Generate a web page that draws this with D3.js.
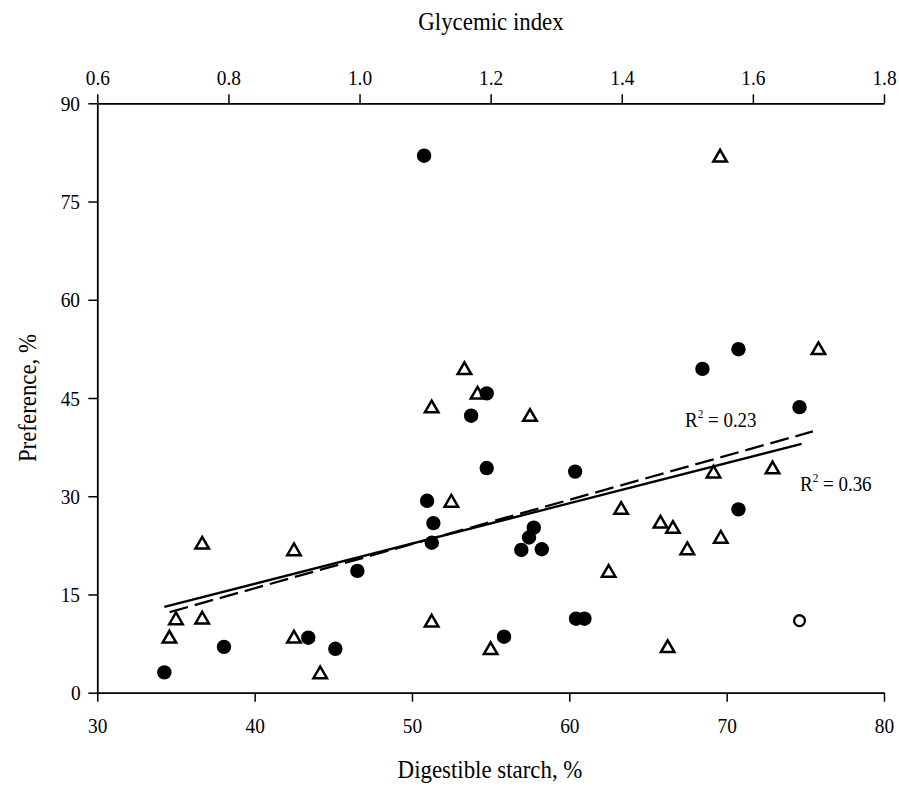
<!DOCTYPE html>
<html>
<head>
<meta charset="utf-8">
<script src="https://cdn.jsdelivr.net/npm/d3@7"></script>
<style>
  html, body { margin: 0; padding: 0; background: #fff; }
  svg { display: block; }
  text { font-family: "Liberation Serif", "Times New Roman", serif; fill: #000; }
  .cond { transform-box: fill-box; transform-origin: center; transform: scaleX(0.88); }
</style>
</head>
<body>
<svg id="chart" width="899" height="792"></svg>
<script>
// ---- Data ----
// Filled circles: digestible starch (%) vs preference (%)
const starchX = [50.77, 70.75, 68.46, 54.75, 53.76, 54.75, 60.37, 50.96, 51.36, 51.26, 57.74, 57.44, 56.95, 58.25, 60.43, 60.96, 55.85, 46.53, 43.41, 38.05, 45.13, 34.26, 74.63, 70.75];
const starchY = [82.0, 52.45, 49.44, 45.7, 42.3, 34.3, 33.76, 29.3, 25.9, 22.9, 25.2, 23.7, 21.8, 21.9, 11.3, 11.3, 8.55, 18.6, 8.4, 7.0, 6.7, 3.1, 43.6, 28.0];
// Open circle (outlier)
const outlierX = [74.63];
const outlierY = [11.0];
// Open triangles: glycemic index vs preference (%)
const giX = [1.550, 1.700, 1.160, 1.180, 1.110, 1.260, 1.140, 1.399, 1.459, 1.478, 1.380, 1.110, 1.200, 1.470, 0.760, 0.900, 0.720, 0.760, 0.710, 0.900, 0.940, 1.540, 1.630, 1.551, 1.500];
const giY = [82.0, 52.6, 49.55, 45.8, 43.7, 42.4, 29.3, 28.2, 26.1, 25.3, 18.6, 11.0, 6.8, 7.1, 22.9, 21.9, 11.36, 11.46, 8.55, 8.55, 3.1, 33.76, 34.4, 23.8, 22.05];
// Regression line endpoints (in digestible starch / preference units)
const solidLine = [[34.26, 13.1], [74.76, 38.0]];
const dashedLine = [[34.6, 12.3], [75.48, 39.9]];
// Ticks
const xTicks = [30, 40, 50, 60, 70, 80];
const xTopTicks = [0.6, 0.8, 1.0, 1.2, 1.4, 1.6, 1.8];
const yTicks = [0, 15, 30, 45, 60, 75, 90];
const r2Labels = [{t: "0.23", x: 67.36, y: 40.5}, {t: "0.36", x: 74.67, y: 30.8}];

// ---- Layout ----
const svg = d3.select("#chart");
const mLeft = 97.3, mRight = 884, mTop = 103.3, mBottom = 692.7;

const x = d3.scaleLinear().domain([30, 80]).range([mLeft, mRight]);
const xTop = d3.scaleLinear().domain([0.6, 1.8]).range([mLeft, mRight]);
const y = d3.scaleLinear().domain([0, 90]).range([mBottom, mTop]);

function styleAxis(g) {
  g.selectAll(".domain").attr("stroke", "#000").attr("stroke-width", 1.8);
  g.selectAll(".tick line").attr("stroke", "#000").attr("stroke-width", 1.5);
  g.selectAll(".tick text").attr("class", "cond")
    .style("font-family", '"Liberation Serif", "Times New Roman", serif').style("font-size", "22px").attr("fill", "#000");
}

svg.append("g").attr("transform", `translate(0,${mBottom})`)
  .call(d3.axisBottom(x).tickValues(xTicks).tickFormat(d3.format("d")).tickSize(9).tickPadding(16).tickSizeOuter(0))
  .call(styleAxis);

svg.append("g").attr("transform", `translate(0,${mTop})`)
  .call(d3.axisTop(xTop).tickValues(xTopTicks).tickFormat(d3.format(".1f")).tickSize(9).tickPadding(9).tickSizeOuter(0))
  .call(styleAxis);

svg.append("g").attr("transform", `translate(${mLeft},0)`)
  .call(d3.axisLeft(y).tickValues(yTicks).tickFormat(d3.format("d")).tickSize(9).tickPadding(7).tickSizeOuter(0))
  .call(styleAxis);

// Axis titles
svg.append("text").attr("class", "cond").attr("x", 491).attr("y", 30).attr("text-anchor", "middle").style("font-size", "26px").text("Glycemic index");
svg.append("text").attr("class", "cond").attr("x", 490).attr("y", 778).attr("text-anchor", "middle").style("font-size", "26px").text("Digestible starch, %");
svg.append("text").attr("transform", `translate(36,${(mTop + mBottom) / 2}) rotate(-90) scale(0.88,1)`).attr("text-anchor", "middle").style("font-size", "26px").text("Preference, %");

// Regression lines
const line = d3.line().x(d => x(d[0])).y(d => y(d[1]));
svg.append("path").datum(solidLine).attr("d", line).attr("fill", "none").attr("stroke", "#000").attr("stroke-width", 2.3);
svg.append("path").datum(dashedLine).attr("d", line).attr("fill", "none").attr("stroke", "#000").attr("stroke-width", 2.3).attr("stroke-dasharray", "19,7");

// Triangles
const s = 13.5, h = s * Math.sqrt(3) / 2;
function tri(cx, cy) {
  return `M${cx},${cy - h / 2}L${cx + s / 2},${cy + h / 2}L${cx - s / 2},${cy + h / 2}Z`;
}
svg.append("g").selectAll("path").data(d3.range(giX.length)).join("path")
  .attr("d", i => tri(xTop(giX[i]), y(giY[i])))
  .attr("fill", "#fff").attr("stroke", "#000").attr("stroke-width", 2.5).attr("stroke-linejoin", "miter");

// Filled circles
svg.append("g").selectAll("circle").data(d3.range(starchX.length)).join("circle")
  .attr("cx", i => x(starchX[i])).attr("cy", i => y(starchY[i])).attr("r", 7.2).attr("fill", "#000");

// Open circle
svg.append("g").selectAll("circle").data(d3.range(outlierX.length)).join("circle")
  .attr("cx", i => x(outlierX[i])).attr("cy", i => y(outlierY[i])).attr("r", 5.4)
  .attr("fill", "#fff").attr("stroke", "#000").attr("stroke-width", 2.3);

// R² labels
r2Labels.forEach(l => {
  const px = x(l.x), py = y(l.y);
  const t = svg.append("text").attr("x", px).attr("y", py).style("font-size", "22px")
    .attr("transform", `translate(${px},${py}) scale(0.86,1) translate(${-px},${-py})`);
  t.append("tspan").text("R");
  t.append("tspan").attr("dy", -9).style("font-size", "13px").text("2");
  t.append("tspan").attr("dy", 9).text(" = " + l.t);
});
</script>
</body>
</html>
